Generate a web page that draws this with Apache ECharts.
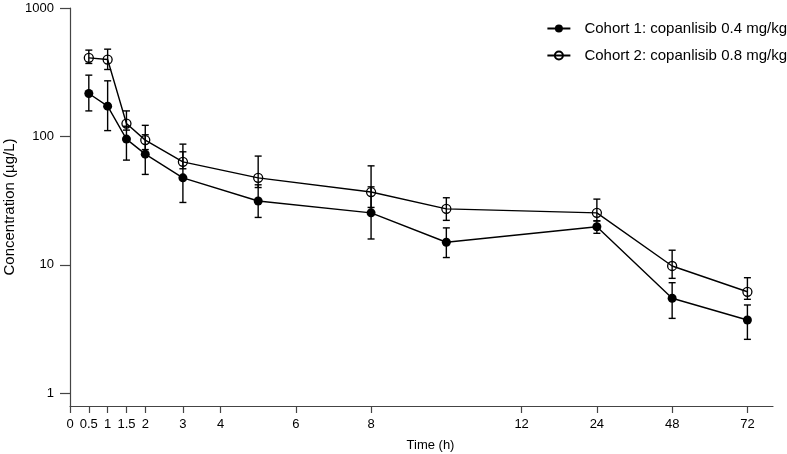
<!DOCTYPE html>
<html>
<head>
<meta charset="utf-8">
<script src="https://cdn.jsdelivr.net/npm/echarts@6/dist/echarts.min.js"></script>
<style>
html,body{margin:0;padding:0;background:#fff;}
#chart{width:787px;height:454px;}
</style>
</head>
<body>
<div id="chart"></div>
<script>
// ---- data ----
const times = [0.5, 1, 1.5, 2, 3, 5, 8, 10, 24, 48, 72];
const xTickTimes = [0, 0.5, 1, 1.5, 2, 3, 4, 6, 8, 12, 24, 48, 72];
const yTicks = [1, 10, 100, 1000];

const cohort1Name = 'Cohort 1: copanlisib 0.4 mg/kg';
const cohort1Mean = [216, 172, 95.3, 72.8, 47.6, 31.4, 25.4, 15.0, 19.8, 5.49, 3.72];
const cohort1Low  = [158, 111, 65.4, 50.6, 30.6, 23.4, 15.9, 11.4, 17.6, 3.83, 2.63];
const cohort1High = [300, 271, 120, 103, 75.9, 42, 40.5, 19.4, 22.0, 7.26, 4.87];

const cohort2Name = 'Cohort 2: copanlisib 0.8 mg/kg';
const cohort2Mean = [409, 397, 126, 93.6, 63.4, 47.6, 36.9, 27.3, 25.4, 9.8, 6.17];
const cohort2Low  = [370, 332, 112, 79, 56, 40, 28, 22.2, 22.0, 7.85, 5.39];
const cohort2High = [470, 478, 158, 122, 87.1, 70.3, 59.0, 33.3, 32.5, 13.0, 7.94];

// broken time axis: linear to 12 h, then 24/48/72 equally spaced
function pos(t) {
  if (t <= 12) return t;
  if (t <= 24) return 12 + (t - 12) / 6;
  return 14 + (t - 24) / 12;
}
const tickLabelOf = {};
xTickTimes.forEach(t => { tickLabelOf[pos(t).toFixed(4)] = String(t); });

function lineData(mean) { return times.map((t, i) => [pos(t), mean[i]]); }
function errData(low, high) { return times.map((t, i) => [pos(t), low[i], high[i]]); }

function errRender(params, api) {
  const x = api.value(0);
  const lo = api.coord([x, api.value(1)]);
  const hi = api.coord([x, api.value(2)]);
  const w = 3.5;
  const style = { stroke: '#000', lineWidth: 1.4, fill: null };
  return {
    type: 'group',
    children: [
      { type: 'line', shape: { x1: lo[0], y1: lo[1], x2: hi[0], y2: hi[1] }, style },
      { type: 'line', shape: { x1: lo[0] - w, y1: lo[1], x2: lo[0] + w, y2: lo[1] }, style },
      { type: 'line', shape: { x1: hi[0] - w, y1: hi[1], x2: hi[0] + w, y2: hi[1] }, style }
    ]
  };
}

const chart = echarts.init(document.getElementById('chart'), null, { renderer: 'canvas' });
const font = '"Liberation Sans", Arial, Helvetica, sans-serif';
chart.setOption({
  animation: false,
  backgroundColor: '#fff',
  textStyle: { fontFamily: font },
  grid: { left: 70, right: 14, top: 8, bottom: 48, outerBoundsMode: 'none', containLabel: false },
  legend: {
    orient: 'vertical',
    right: 0,
    top: 21,
    padding: 0,
    itemWidth: 23,
    itemHeight: 10,
    itemGap: 12,
    textStyle: { fontFamily: font, fontSize: 15, color: '#000', padding: [0, 0, 0, 9] },
    data: [cohort1Name, cohort2Name]
  },
  xAxis: {
    type: 'value',
    min: 0,
    max: 18.68,
    name: 'Time (h)',
    nameLocation: 'middle',
    nameGap: 33,
    nameMoveOverlap: false,
    nameTextStyle: { fontFamily: font, fontSize: 13, color: '#000', padding: [0, 0, 0, 18] },
    splitLine: { show: false },
    axisLine: { lineStyle: { color: '#444', width: 1.2 } },
    axisTick: { show: true, length: 7, lineStyle: { color: '#444', width: 1.2 }, customValues: xTickTimes.map(pos) },
    axisLabel: {
      customValues: xTickTimes.map(pos),
      margin: 12,
      fontFamily: font, fontSize: 13, color: '#000',
      formatter: v => tickLabelOf[Number(v).toFixed(4)] || ''
    }
  },
  yAxis: {
    type: 'log',
    logBase: 10,
    min: 0.796,
    max: 1000,
    name: 'Concentration (µg/L)',
    nameLocation: 'middle',
    nameGap: 53,
    nameMoveOverlap: false,
    nameTextStyle: { fontFamily: font, fontSize: 15, color: '#000' },
    splitLine: { show: false },
    minorTick: { show: false },
    axisLine: { show: true, lineStyle: { color: '#444', width: 1.2 } },
    axisTick: { show: true, length: 10, lineStyle: { color: '#444', width: 1.2 }, customValues: yTicks },
    axisLabel: {
      customValues: yTicks,
      margin: 16,
      fontFamily: font, fontSize: 13, color: '#000',
      formatter: v => String(Math.round(v))
    }
  },
  series: [
    {
      name: cohort1Name,
      type: 'line',
      data: lineData(cohort1Mean),
      symbol: 'circle',
      symbolSize: 9,
      itemStyle: { color: '#000', borderColor: '#000', borderWidth: 0 },
      lineStyle: { color: '#000', width: 1.4 },
      z: 3
    },
    {
      name: cohort2Name,
      type: 'line',
      data: lineData(cohort2Mean),
      symbol: 'circle',
      symbolSize: 9,
      itemStyle: { color: 'rgba(0,0,0,0)', borderColor: '#000', borderWidth: 1.3 },
      lineStyle: { color: '#000', width: 1.4 },
      z: 3
    },
    {
      name: cohort1Name,
      type: 'custom',
      renderItem: errRender,
      data: errData(cohort1Low, cohort1High),
      encode: { x: 0, y: [1, 2] },
      z: 2
    },
    {
      name: cohort2Name,
      type: 'custom',
      renderItem: errRender,
      data: errData(cohort2Low, cohort2High),
      encode: { x: 0, y: [1, 2] },
      z: 2
    }
  ]
});
</script>
</body>
</html>
